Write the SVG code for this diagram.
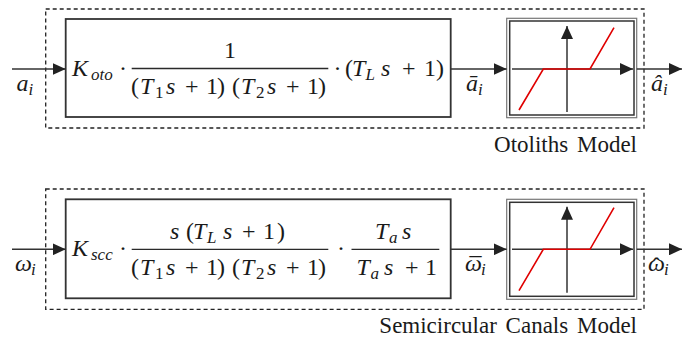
<svg xmlns="http://www.w3.org/2000/svg" width="689" height="341" viewBox="0 0 689 341">
<defs>
<style>
text{font-family:'Liberation Serif','Times New Roman',serif;fill:#1a1a1a}
.m{font-size:24px}
.i{font-style:italic}
.s{font-size:17px}
.lbl{font-size:23px;word-spacing:3px}
.dash{fill:none;stroke:#222;stroke-width:1.3;stroke-dasharray:4 3}
.blk{fill:#fff;stroke:#333;stroke-width:1.8}
.outer{fill:#fff;stroke:#777;stroke-width:1.2}
.inner{fill:none;stroke:#333;stroke-width:1.5}
.bar{stroke:#2a2a2a;stroke-width:1.3}
.ax{stroke:#333;stroke-width:1.5;fill:none;marker-end:url(#ah)}
.red{stroke:#e00000;stroke-width:1.6;fill:none}
.conn{stroke:#333;stroke-width:1.5;fill:none;marker-end:url(#ah)}
</style>
<marker id="ah" markerWidth="13" markerHeight="12" refX="13" refY="6" orient="auto" markerUnits="userSpaceOnUse">
<path d="M0,0 L13,6 L0,12 z" fill="#222"/>
</marker>
</defs>
<rect width="689" height="341" fill="#fff"/>

<g id="otoliths-group">
<rect class="dash" x="45.7" y="9" width="598.3" height="119"/>
<text class="lbl" x="637" y="152" text-anchor="end">Otoliths Model</text>
</g>
<g id="scc-group">
<rect class="dash" x="45.7" y="189" width="598.3" height="120.3"/>
<text class="lbl" x="637" y="332.5" text-anchor="end">Semicircular Canals Model</text>
</g>

<g id="oto-tf">
<rect class="blk" x="65.7" y="19" width="385" height="98"/>
<text class="m"><tspan class="i" x="72" y="76">K</tspan><tspan class="i s" x="91" y="80">oto</tspan><tspan x="119" y="76">·</tspan><tspan x="230" y="58" text-anchor="middle">1</tspan><tspan x="131" y="94">(</tspan><tspan class="i" x="140" y="94">T</tspan><tspan class="s" x="155" y="98">1</tspan><tspan class="i" x="166" y="94">s</tspan><tspan x="185" y="94">+</tspan><tspan x="206" y="94">1</tspan><tspan x="217" y="94">)</tspan><tspan x="232" y="94">(</tspan><tspan class="i" x="241" y="94">T</tspan><tspan class="s" x="256" y="98">2</tspan><tspan class="i" x="267" y="94">s</tspan><tspan x="286" y="94">+</tspan><tspan x="307" y="94">1</tspan><tspan x="318" y="94">)</tspan><tspan x="333.5" y="76">·</tspan><tspan x="345" y="76">(</tspan><tspan class="i" x="352" y="76">T</tspan><tspan class="i s" x="365.5" y="80">L</tspan><tspan class="i" x="381" y="76">s</tspan><tspan x="402" y="76">+</tspan><tspan x="424" y="76">1</tspan><tspan x="436" y="76">)</tspan></text>
<line class="bar" x1="131.7" y1="68.5" x2="328.3" y2="68.5"/>
</g>

<g id="oto-sat">
<rect class="outer" x="506.7" y="18.3" width="130" height="99.4"/>
<rect class="inner" x="509.7" y="21" width="124.3" height="94"/>
<line class="ax" x1="512" y1="69" x2="633" y2="69"/>
<line class="ax" x1="567" y1="112" x2="567" y2="26"/>
<polyline class="red" points="519,110 543.3,69 590,69 614,27.7"/>
</g>

<g id="scc-tf">
<rect class="blk" x="65.7" y="199.3" width="385" height="99"/>
<text class="m"><tspan class="i" x="72" y="256">K</tspan><tspan class="i s" x="91" y="260">scc</tspan><tspan x="119" y="256">·</tspan><tspan class="i" x="170" y="238.5">s</tspan><tspan x="186" y="238.5">(</tspan><tspan class="i" x="193" y="238.5">T</tspan><tspan class="i s" x="207" y="242.5">L</tspan><tspan class="i" x="223" y="238.5">s</tspan><tspan x="242" y="238.5">+</tspan><tspan x="263" y="238.5">1</tspan><tspan x="277" y="238.5">)</tspan><tspan x="131" y="275">(</tspan><tspan class="i" x="140" y="275">T</tspan><tspan class="s" x="155" y="279">1</tspan><tspan class="i" x="166" y="275">s</tspan><tspan x="185" y="275">+</tspan><tspan x="206" y="275">1</tspan><tspan x="217" y="275">)</tspan><tspan x="232" y="275">(</tspan><tspan class="i" x="241" y="275">T</tspan><tspan class="s" x="256" y="279">2</tspan><tspan class="i" x="267" y="275">s</tspan><tspan x="286" y="275">+</tspan><tspan x="307" y="275">1</tspan><tspan x="318" y="275">)</tspan><tspan x="337" y="256">·</tspan><tspan class="i" x="375" y="238.5">T</tspan><tspan class="i s" x="389" y="242.5">a</tspan><tspan class="i" x="402" y="238.5">s</tspan><tspan class="i" x="356.5" y="275">T</tspan><tspan class="i s" x="370.5" y="279">a</tspan><tspan class="i" x="384" y="275">s</tspan><tspan x="405" y="275">+</tspan><tspan x="425" y="275">1</tspan></text>
<line class="bar" x1="131.7" y1="249.3" x2="328.3" y2="249.3"/>
<line class="bar" x1="351.5" y1="249.3" x2="439.3" y2="249.3"/>
</g>

<g id="scc-sat">
<rect class="outer" x="506.7" y="199.3" width="130" height="100"/>
<rect class="inner" x="509.7" y="202.3" width="124.3" height="94"/>
<line class="ax" x1="512" y1="249.3" x2="633" y2="249.3"/>
<line class="ax" x1="567" y1="292.7" x2="567" y2="206.7"/>
<polyline class="red" points="519,290.7 543.3,249.3 590,249.3 614,207.7"/>
</g>

<g id="connectors">
<line class="conn" x1="12" y1="69" x2="65.7" y2="69"/>
<line class="conn" x1="450.7" y1="69" x2="506.7" y2="69"/>
<line class="conn" x1="636.7" y1="69" x2="682" y2="69"/>
<line class="conn" x1="12" y1="249.3" x2="65.7" y2="249.3"/>
<line class="conn" x1="450.7" y1="249.3" x2="506.7" y2="249.3"/>
<line class="conn" x1="636.7" y1="249.3" x2="682" y2="249.3"/>
</g>

<g id="labels">
<text class="m"><tspan class="i" x="16.5" y="91">a</tspan><tspan class="i s" x="28.5" y="95">i</tspan></text>
<text class="m"><tspan class="i" x="466" y="91">ā</tspan><tspan class="i s" x="478" y="95">i</tspan></text>
<text class="m"><tspan class="i" x="651" y="91">â</tspan><tspan class="i s" x="663" y="95">i</tspan></text>
<text class="m"><tspan class="i" x="15" y="271">ω</tspan><tspan class="i s" x="31" y="275">i</tspan></text>
<text class="m"><tspan class="i" x="465" y="271">ω</tspan><tspan x="469.5" y="274">¯</tspan><tspan class="i s" x="481" y="275">i</tspan></text>
<text class="m"><tspan class="i" x="648" y="271">ω</tspan><tspan x="652.5" y="274">ˆ</tspan><tspan class="i s" x="664" y="275">i</tspan></text>
</g>
</svg>
